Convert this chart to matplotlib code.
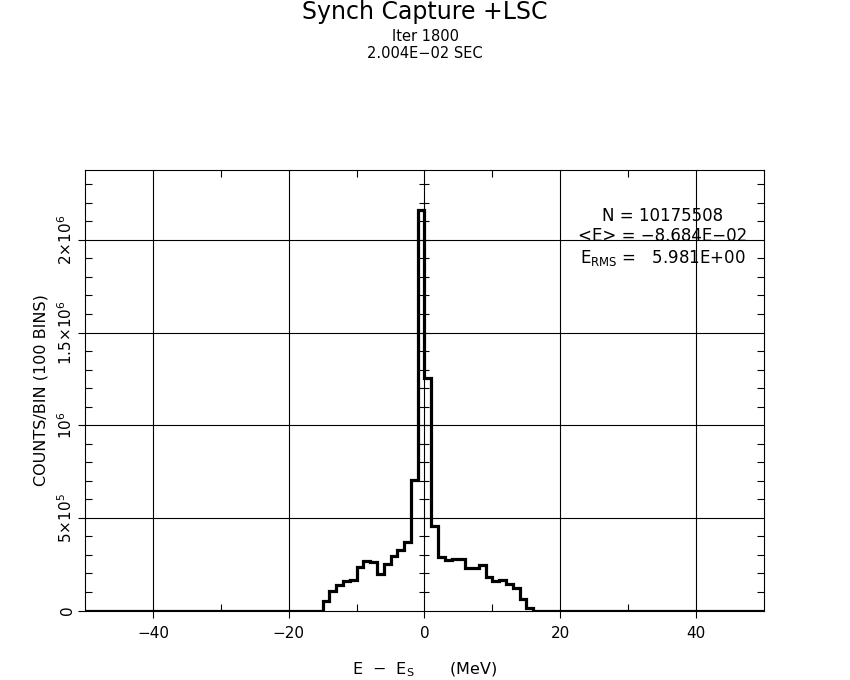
import numpy as np
import matplotlib
matplotlib.use("Agg")
import matplotlib.pyplot as plt
from matplotlib.ticker import MultipleLocator, FixedLocator

# histogram: 100 bins of 1 MeV from -50 to 50, only bins -15..15 are non-zero
bin_edges = np.arange(-50, 51, 1)
first_bin = -15
counts_nonzero = [0.486e5, 1.07e5, 1.36e5, 1.57e5, 1.63e5, 2.33e5, 2.67e5, 2.60e5,
                  1.95e5, 2.51e5, 2.94e5, 3.26e5, 3.68e5, 7.04e5, 2.161e6,
                  1.253e6, 4.58e5, 2.87e5, 2.71e5, 2.76e5, 2.78e5, 2.31e5, 2.31e5,
                  2.46e5, 1.79e5, 1.61e5, 1.66e5, 1.43e5, 1.21e5, 0.60e5, 0.15e5]

counts = np.zeros(len(bin_edges) - 1)
start = first_bin - bin_edges[0]
counts[start:start + len(counts_nonzero)] = counts_nonzero

ytick_vals = [0, 5e5, 1e6, 1.5e6, 2e6]
ytick_labels = ["0", r"$5{\times}10^5$", r"$10^6$", r"$1.5{\times}10^6$", r"$2{\times}10^6$"]
xtick_vals = [-40, -20, 0, 20, 40]

n_total = 10175508
mean_e = -8.684e-02
rms_e = 5.981e+00

fig = plt.figure(figsize=(8.5, 6.8), dpi=100)
ax = fig.add_axes([0.1, 0.1022, 0.7988, 0.6478])

ax.stairs(counts, bin_edges, color="black", linewidth=2.3, zorder=3)

ax.set_xlim(-50, 50)
ax.set_ylim(0, max(counts) * 1.1)

# grid lines at the major ticks
for x in xtick_vals:
    ax.axvline(x, color="black", linewidth=0.8, zorder=1)
for y in ytick_vals[1:]:
    ax.axhline(y, color="black", linewidth=0.8, zorder=1)

ax.xaxis.set_major_locator(FixedLocator(xtick_vals))
ax.xaxis.set_minor_locator(FixedLocator([-30, -10, 10, 30]))
ax.yaxis.set_major_locator(FixedLocator(ytick_vals))
ax.yaxis.set_minor_locator(MultipleLocator(1e5))
ax.set_yticklabels(ytick_labels, rotation=90, va="center")

ax.tick_params(which="major", direction="out", length=5, width=0.8, labelsize=11, pad=6)
ax.tick_params(which="minor", direction="in", length=5, width=0.8, top=True, right=True)
ax.tick_params(axis="y", which="major", pad=2)

# small ticks along the x = 0 line
minor_y = np.arange(1e5, max(counts) * 1.1, 1e5)
ax.plot(np.zeros(len(minor_y)), minor_y, linestyle="none", marker="_",
        markersize=7, markeredgewidth=0.8, color="black", zorder=2)

for s in ax.spines.values():
    s.set_linewidth(0.8)

ax.set_xlabel(r"E  $-$  E$_\mathregular{S}$       (MeV)", fontsize=11.5, labelpad=14)
ax.set_ylabel("COUNTS/BIN (100 BINS)", fontsize=11.5, labelpad=6)

tx = 0.851
ax.text(tx, 0.895, "N = %d" % n_total, transform=ax.transAxes,
        ha="center", va="center", fontsize=12)
ax.text(tx, 0.85, ("<E> = %.3E" % mean_e).replace("-", "\u2212"), transform=ax.transAxes,
        ha="center", va="center", fontsize=12)
ax.text(tx, 0.80, r"E$_\mathregular{RMS}$ =   %.3E" % rms_e, transform=ax.transAxes,
        ha="center", va="center", fontsize=12)

fig.text(0.5, 0.982, "Synch Capture +LSC", ha="center", va="center", fontsize=17)
fig.text(0.5, 0.946, "Iter 1800", ha="center", va="center", fontsize=10.5)
fig.text(0.5, 0.922, "2.004E\u221202 SEC", ha="center", va="center", fontsize=10.5)

fig.savefig("out.png", dpi=100)
